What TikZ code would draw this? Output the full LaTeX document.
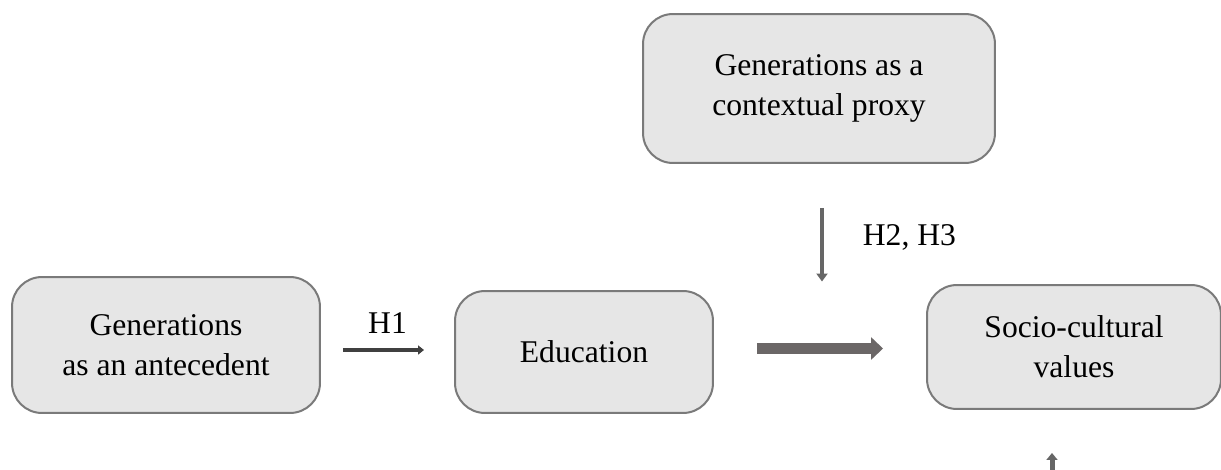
\documentclass[tikz,border=0pt]{standalone}
\usepackage{fontspec}
\setmainfont{Liberation Serif}
\usetikzlibrary{positioning}
\usetikzlibrary{calc}
\usetikzlibrary{arrows.meta}
\definecolor{boxline}{RGB}{122,122,122}
\definecolor{boxfill}{RGB}{230,230,230}
\definecolor{darkarrow}{RGB}{64,64,64}
\definecolor{midarrow}{RGB}{107,103,103}
\definecolor{lightarrow}{RGB}{102,102,102}

\begin{document}
\begin{tikzpicture}[
    x=0.02cm, y=-0.02cm,
    stage/.style={rectangle, draw=boxline, line width=0.04cm, rounded corners=0.6cm, fill=boxfill, align=center, font=\fontsize{18}{22.7}\selectfont},
    lbl/.style={font=\fontsize{18}{22}\selectfont}
]
    \useasboundingbox (0,0) rectangle (1221,470);

    \node[stage, minimum width=6.16cm, minimum height=2.72cm] (ante) at (166,345) {Generations\\as an antecedent};
    \node[stage, minimum width=5.16cm, minimum height=2.44cm] (edu) at (584,352) {Education};
    \node[stage, minimum width=7.04cm, minimum height=2.98cm] (proxy) at (819,88.5) {Generations as a\\contextual proxy};
    \node[stage, minimum width=5.88cm, minimum height=2.48cm] (socio) at (1074,347) {Socio-cultural\\values};

    \coordinate (hone) at (342,350);
    \coordinate (mod) at (822,348.5);
    \coordinate (below) at (1052,470);

    \draw[-{Triangle[length=0.12cm, width=0.18cm]}, line width=0.075cm, darkarrow, shorten <=0.44cm, shorten >=0.6cm] (ante.east |- hone) -- node[lbl, black, above=0.18cm] {H1} (edu.west |- hone);
    \draw[-{Triangle[length=0.24cm, width=0.44cm]}, line width=0.22cm, midarrow, shorten <=0.86cm, shorten >=0.86cm] (edu.east |- mod) -- (socio.west |- mod);
    \draw[-{Triangle[length=0.16cm, width=0.22cm]}, line width=0.08cm, lightarrow, shorten <=0.88cm, shorten >=1.34cm] (proxy.south -| mod) -- node[lbl, black, right=0.66cm, pos=0.4] {H2, H3} (mod);
    \draw[-{Triangle[length=0.14cm, width=0.22cm]}, line width=0.1cm, lightarrow, shorten >=0.86cm] (below) -- (below |- socio.south);
\end{tikzpicture}
\end{document}
